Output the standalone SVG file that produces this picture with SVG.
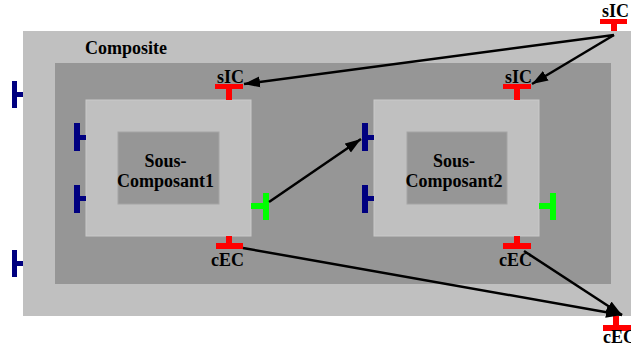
<svg xmlns="http://www.w3.org/2000/svg" width="631" height="349" viewBox="0 0 631 349">
<style>
.t{font-family:"Liberation Serif","Times New Roman",serif;font-weight:bold;font-size:18px;fill:#000}
.light{fill:#c0c0c0}
.dark{fill:#969696}
.box{fill:#c0c0c0;stroke:#cacaca;stroke-width:1}
.inner{fill:#969696;stroke:#a4a4a4;stroke-width:1}
.red{fill:#ff0000}
.blue{fill:#000080}
.green{fill:#00ff00}
.conn{stroke:#000;stroke-width:2.5;fill:none;marker-end:url(#ah)}
</style>
<defs>
<marker id="ah" markerUnits="userSpaceOnUse" markerWidth="17" markerHeight="12" refX="16" refY="6" orient="auto">
<path d="M0,0.5 L16,6 L0,11.5 z" fill="#000"/>
</marker>
</defs>
<rect width="631" height="349" fill="#fff"/>
<g id="composite">
<rect class="light" x="23" y="31" width="608" height="285"/>
<rect class="dark" x="55" y="63" width="556" height="221"/>
<text class="t" x="85" y="54">Composite</text>
<rect class="blue" x="12" y="81" width="5" height="27"/>
<rect class="blue" x="17" y="92" width="6" height="5"/>
<rect class="blue" x="12" y="250" width="5" height="27"/>
<rect class="blue" x="17" y="261" width="6" height="5"/>
</g>
<g id="composite-sIC">
<rect class="red" x="600" y="19" width="27" height="5"/>
<rect class="red" x="611" y="24" width="6" height="7"/>
<text class="t" x="602" y="17">sIC</text>
</g>
<g id="composite-cEC">
<rect class="red" x="613" y="316" width="6" height="9"/>
<rect class="red" x="603" y="325" width="28" height="6"/>
<text class="t" x="603" y="343">cEC</text>
</g>
<g id="sous-composant1">
<rect class="box" x="86" y="100" width="165" height="136"/>
<rect class="inner" x="118" y="132" width="101" height="72"/>
<text class="t" text-anchor="middle" x="165.5" y="167">Sous-</text>
<text class="t" text-anchor="middle" x="165.5" y="187">Composant1</text>
<rect class="red" x="215" y="84" width="28" height="5"/>
<rect class="red" x="226" y="89" width="6" height="11"/>
<text class="t" x="217" y="83">sIC</text>
<rect class="red" x="226" y="236" width="6" height="7"/>
<rect class="red" x="216" y="243" width="27" height="6"/>
<text class="t" x="211" y="266">cEC</text>
<rect class="blue" x="74" y="123" width="6" height="28"/>
<rect class="blue" x="80" y="135" width="6" height="5"/>
<rect class="blue" x="74" y="185" width="6" height="28"/>
<rect class="blue" x="80" y="196" width="6" height="5"/>
<rect class="green" x="263" y="193" width="6" height="27"/>
<rect class="green" x="251" y="203" width="12" height="6"/>
</g>
<g id="sous-composant2">
<rect class="box" x="374" y="100" width="165" height="136"/>
<rect class="inner" x="407" y="132" width="100" height="72"/>
<text class="t" text-anchor="middle" x="454" y="167">Sous-</text>
<text class="t" text-anchor="middle" x="454" y="187">Composant2</text>
<rect class="red" x="503" y="84" width="28" height="5"/>
<rect class="red" x="514" y="89" width="6" height="11"/>
<text class="t" x="505" y="83">sIC</text>
<rect class="red" x="514" y="236" width="6" height="7"/>
<rect class="red" x="503" y="243" width="28" height="6"/>
<text class="t" x="499" y="266">cEC</text>
<rect class="blue" x="362" y="123" width="6" height="28"/>
<rect class="blue" x="368" y="135" width="6" height="5"/>
<rect class="blue" x="362" y="185" width="6" height="28"/>
<rect class="blue" x="368" y="196" width="6" height="5"/>
<rect class="green" x="550" y="193" width="6" height="27"/>
<rect class="green" x="539" y="203" width="11" height="6"/>
</g>
<g id="connectors">
<path class="conn" d="M614,35 L244,84"/>
<path class="conn" d="M614,35 L532,84"/>
<path class="conn" d="M269,202 L361,139"/>
<path class="conn" d="M243,248 L622,315"/>
<path class="conn" d="M524,251 L622,315"/>
</g>
</svg>
